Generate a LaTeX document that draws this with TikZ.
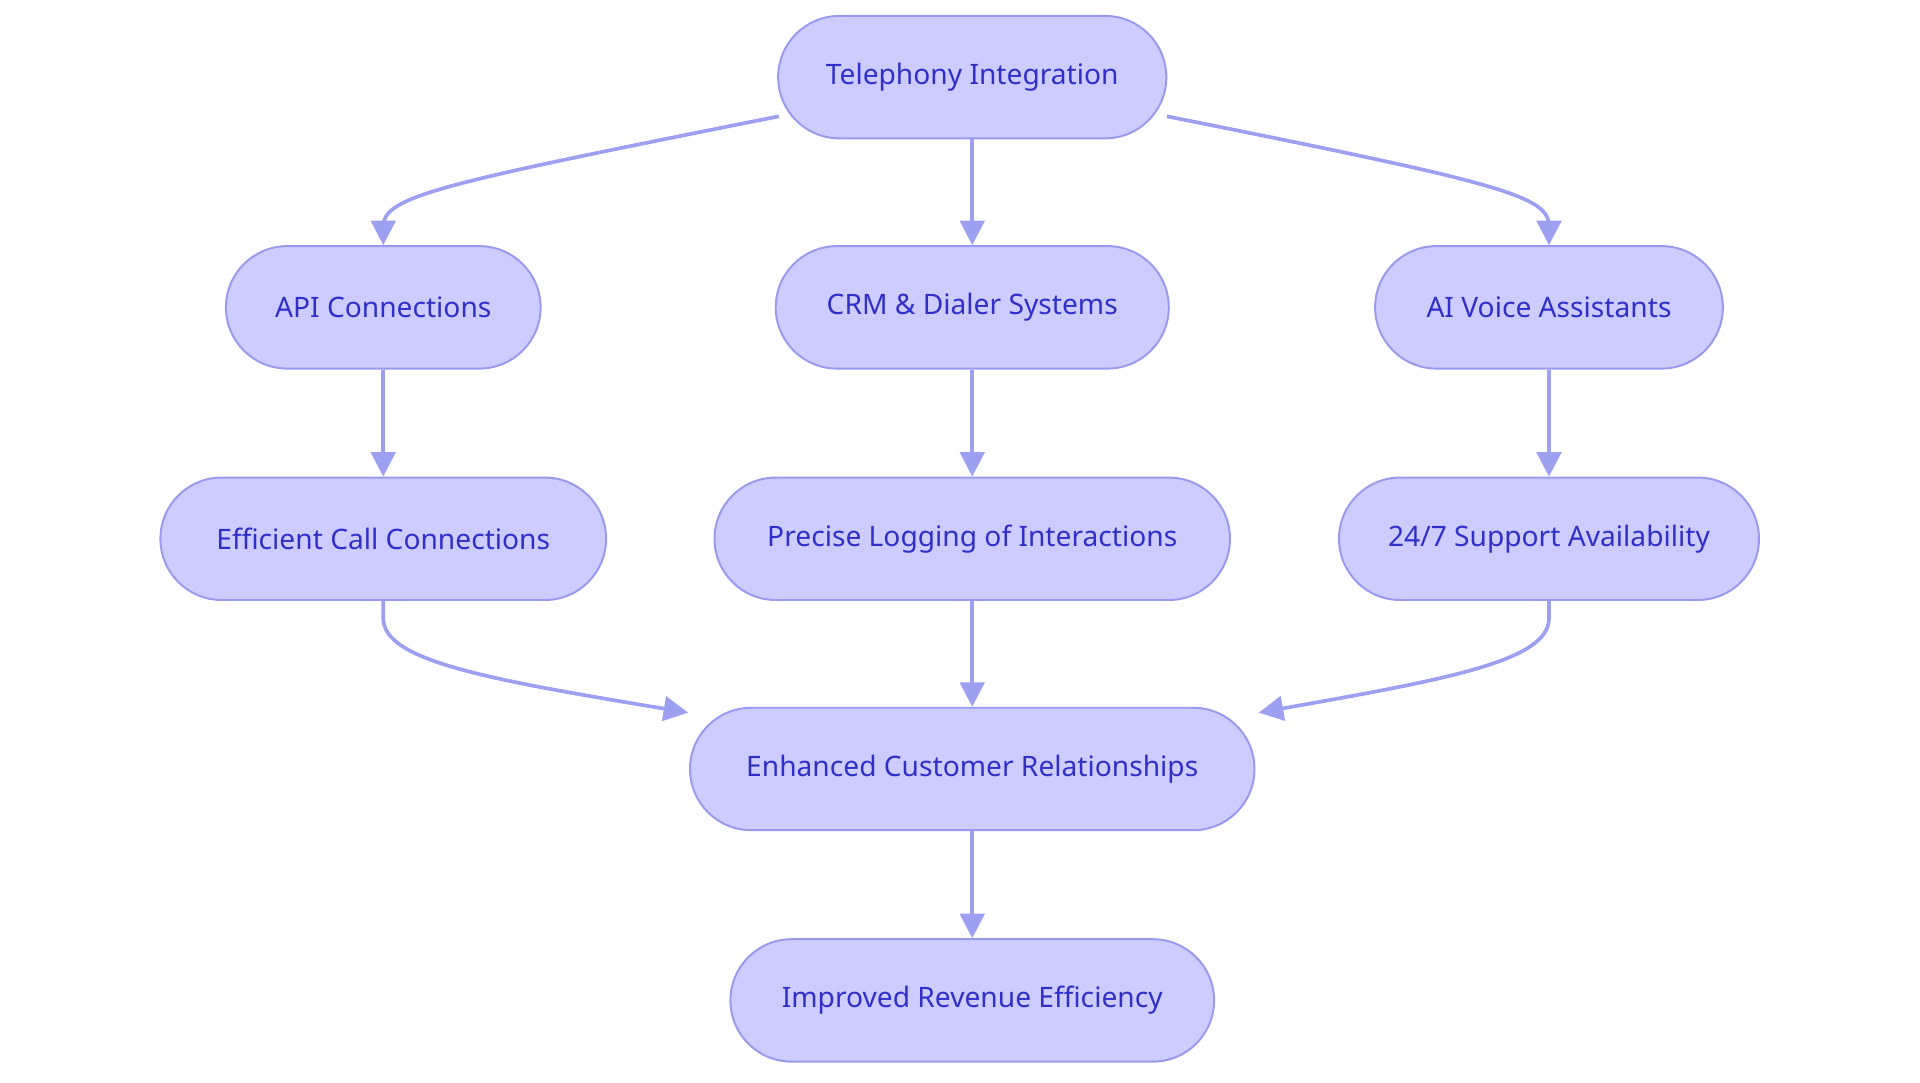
\documentclass[tikz,border=0pt]{standalone}
\usepackage{fontspec}
\setmainfont{Noto Sans}
\usetikzlibrary{arrows.meta}
\definecolor{nfill}{HTML}{CCCCFF}
\definecolor{nline}{HTML}{9999EE}
\definecolor{ntext}{HTML}{3030C8}
\definecolor{eline}{HTML}{9DA0F0}
\begin{document}
\begin{tikzpicture}[x=0.5pt,y=-0.5pt,
  box/.style={draw=nline,line width=0.8pt,fill=nfill,rounded corners=25pt,minimum height=50pt,inner sep=0pt,text=ntext,font=\fontsize{11.5}{13}\selectfont},
  ed/.style={draw=eline,line width=1.5pt,-{Triangle[length=10pt,width=10pt]}}]
\useasboundingbox (0,0) rectangle (1568,884);
\node[box,minimum width=158.5pt] (tel) at (794,63) {Telephony Integration};
\node[box,minimum width=128.5pt] (api) at (313,251) {API Connections};
\node[box,minimum width=160.5pt] (crm) at (794,251) {CRM \& Dialer Systems};
\node[box,minimum width=142pt] (ai) at (1265,251) {AI Voice Assistants};
\node[box,minimum width=182pt] (eff) at (313,440) {Efficient Call Connections};
\node[box,minimum width=210.5pt] (pre) at (794,440) {Precise Logging of Interactions};
\node[box,minimum width=171.5pt] (sup) at (1265,440) {24/7 Support Availability};
\node[box,minimum width=230.5pt] (enh) at (794,628) {Enhanced Customer Relationships};
\node[box,minimum width=197.5pt] (imp) at (794,817) {Improved Revenue Efficiency};
\coordinate (t1) at (636,95);
\coordinate (t2) at (953,95);
\coordinate (e1) at (562,582);
\coordinate (e2) at (1028,582);
\draw[ed] (t1) .. controls (360,150) and (313,160) .. (313,185) -- (api.north);
\draw[ed] (t2) .. controls (1228,150) and (1265,160) .. (1265,185) -- (ai.north);
\draw[ed] (tel) -- (crm);
\draw[ed] (api) -- (eff);
\draw[ed] (crm) -- (pre);
\draw[ed] (ai) -- (sup);
\draw[ed] (eff.south) -- (313,505) .. controls (313,540) and (400,555) .. (e1);
\draw[ed] (sup.south) -- (1265,505) .. controls (1265,540) and (1180,555) .. (e2);
\draw[ed] (pre) -- (enh);
\draw[ed] (enh) -- (imp);
\end{tikzpicture}
\end{document}
